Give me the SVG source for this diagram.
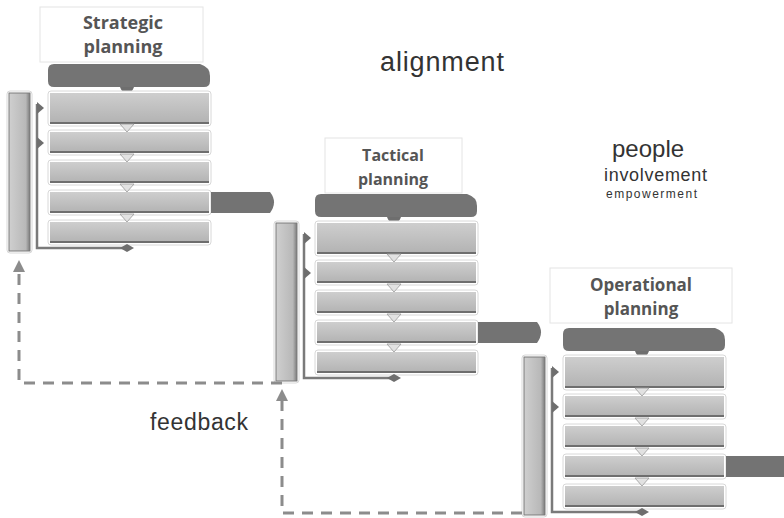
<svg xmlns="http://www.w3.org/2000/svg" xmlns:xlink="http://www.w3.org/1999/xlink" width="784" height="518" viewBox="0 0 784 518">
<style>
.title{fill:#fff;stroke:#e4e4e4;stroke-width:1}
.tt{font-family:"Open Sans","Liberation Sans",sans-serif;font-weight:bold;fill:#555;text-anchor:middle}
.lbl{font-family:"Liberation Sans",Arial,sans-serif;fill:#333}
.hdr{fill:#747474}
.rowh{fill:#fff;stroke:#d8d8d8;stroke-width:1}
.row{fill:url(#rg)}
.rowb{stroke:#6e6e6e;stroke-width:2}
.bar{fill:url(#bg);stroke:#7a7a7a;stroke-width:1}
.conn{fill:none;stroke:#7a7a7a;stroke-width:2.5}
.knob{fill:#6e6e6e}
.chev{fill:#e2e2e2;stroke:#999;stroke-width:0.8}
.fb{fill:none;stroke:#8c8c8c;stroke-width:3;stroke-dasharray:11 8}
.out{fill:#737373}
</style>
<defs>
<linearGradient id="rg" x1="0" y1="0" x2="0" y2="1"><stop offset="0" stop-color="#cecece"/><stop offset="1" stop-color="#b2b2b2"/></linearGradient>
<linearGradient id="bg" x1="0" y1="0" x2="1" y2="0"><stop offset="0" stop-color="#cfcfcf"/><stop offset="0.8" stop-color="#b8b8b8"/><stop offset="1" stop-color="#7a7a7a"/></linearGradient>
<marker id="up" viewBox="0 0 10 10" refX="5" refY="5" markerWidth="4" markerHeight="4" orient="auto"><path d="M0,0 L10,5 L0,10 Z" fill="#8c8c8c"/></marker>
<g id="body">
  <path class="hdr" d="M6,0 H152 Q162,3 162,12 V17 Q162,23 156,23 H6 Q0,23 0,17 V6 Q0,0 6,0 Z"/>
  <path class="knob" d="M72,23 H86 Q84,29 79,29 Q74,29 72,23 Z"/>
  <rect class="rowh" x="0" y="27" width="163" height="35" rx="3"/>
  <rect class="row" x="2" y="29" width="159" height="31"/>
  <line class="rowb" x1="2" y1="59" x2="161" y2="59"/>
  <rect class="rowh" x="0" y="66" width="163" height="25" rx="3"/>
  <rect class="row" x="2" y="68" width="159" height="21"/>
  <line class="rowb" x1="2" y1="88" x2="161" y2="88"/>
  <rect class="rowh" x="0" y="96" width="163" height="25" rx="3"/>
  <rect class="row" x="2" y="98" width="159" height="21"/>
  <line class="rowb" x1="2" y1="118" x2="161" y2="118"/>
  <rect class="rowh" x="0" y="126" width="163" height="25" rx="3"/>
  <rect class="row" x="2" y="128" width="159" height="21"/>
  <line class="rowb" x1="2" y1="148" x2="161" y2="148"/>
  <rect class="rowh" x="0" y="156" width="163" height="25" rx="3"/>
  <rect class="row" x="2" y="158" width="159" height="21"/>
  <line class="rowb" x1="2" y1="178" x2="161" y2="178"/>
  <path class="chev" d="M72,60 H86 L79,68 Z"/>
  <path class="chev" d="M72,90 H86 L79,98 Z"/>
  <path class="chev" d="M72,120 H86 L79,128 Z"/>
  <path class="chev" d="M72,150 H86 L79,158 Z"/>
  <rect x="-41" y="27" width="25" height="162" rx="3" fill="#fff" stroke="#d8d8d8"/>
  <rect class="bar" x="-39" y="29" width="21" height="158"/>
  <path class="conn" d="M-11,40 V184 H79"/>
  <path class="knob" d="M-11,38 L-4,44 L-11,50 Z"/>
  <path class="knob" d="M-11,73 L-4,79 L-11,85 Z"/>
  <path class="knob" d="M72,184 L79,180 L86,184 L79,188 Z"/>
  <path class="out" d="M163,128 H222 Q230,138 222,149 H163 Z"/>
</g>
</defs>
<g id="strategic" transform="translate(48,64)">
  <rect class="title" x="-8" y="-57" width="163" height="55"/>
  <text class="tt" x="75" y="-35" font-size="18">Strategic</text>
  <text class="tt" x="75" y="-11" font-size="18">planning</text>
  <use xlink:href="#body" href="#body"/>
</g>
<g id="tactical" transform="translate(315,194)">
  <rect class="title" x="10" y="-56" width="137" height="55"/>
  <text class="tt" x="78" y="-33" font-size="16">Tactical</text>
  <text class="tt" x="78" y="-9" font-size="16">planning</text>
  <use xlink:href="#body" href="#body"/>
</g>
<g id="operational" transform="translate(563,328)">
  <rect class="title" x="-13" y="-60" width="182" height="55"/>
  <text class="tt" x="78" y="-37" font-size="17">Operational</text>
  <text class="tt" x="78" y="-13" font-size="17">planning</text>
  <use xlink:href="#body" href="#body"/>
</g>
<g id="connectors">
  <path class="fb" d="M282,383 H19 V266" marker-end="url(#up)"/>
  <path class="fb" d="M522,513 H282 V395" marker-end="url(#up)"/>
</g>
<g id="labels">
  <text class="lbl" x="380" y="71" font-size="27" textLength="124">alignment</text>
  <text class="lbl" x="612" y="157" font-size="24">people</text>
  <text class="lbl" x="604" y="181" font-size="18" textLength="103">involvement</text>
  <text class="lbl" x="606" y="198" font-size="12" fill="#555" textLength="91">empowerment</text>
  <text class="lbl" x="150" y="430" font-size="23" fill="#777" textLength="98">feedback</text>
</g>
</svg>
